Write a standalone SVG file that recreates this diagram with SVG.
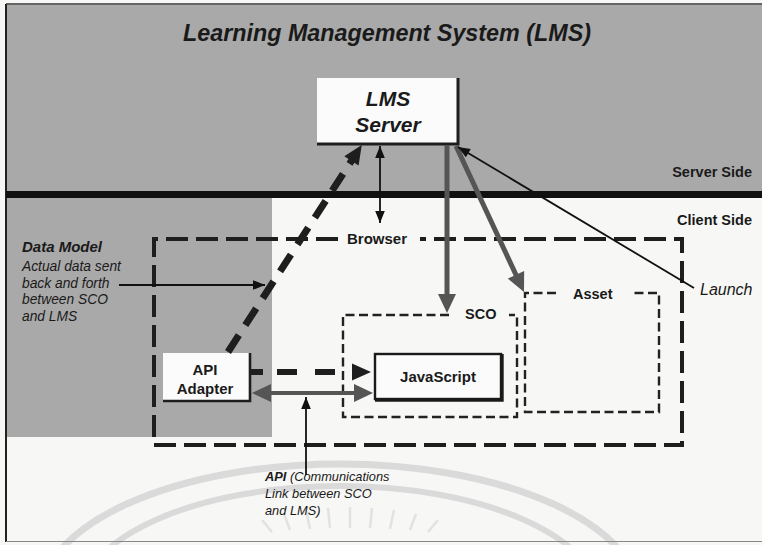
<svg xmlns="http://www.w3.org/2000/svg" width="762" height="545" viewBox="0 0 762 545">
  <style>
    text { font-family: "Liberation Sans", Arial, sans-serif; fill: #1a1a1a; }
    .b { font-weight: bold; }
    .i { font-style: italic; }
    .bi { font-weight: bold; font-style: italic; }
    .thin { stroke: #111; stroke-width: 1.8; fill: none; }
    .big-dash { stroke: #1e1e1e; stroke-width: 4; fill: none; stroke-dasharray: 22 8; }
    .small-dash { stroke: #222; stroke-width: 2.4; fill: none; stroke-dasharray: 9 4.5; }
    .wm { fill: none; stroke: #dadada; }
    .ray { fill: none; stroke: #e2e2e2; stroke-width: 2.5; }
  </style>
  <defs>
    <marker id="h-thin" markerUnits="userSpaceOnUse" orient="auto-start-reverse" refX="0" refY="0" markerWidth="1" markerHeight="1" overflow="visible">
      <path d="M-12,-4.8 L0,0 L-12,4.8 z" fill="#111"/>
    </marker>
    <marker id="h-dark" markerUnits="userSpaceOnUse" orient="auto-start-reverse" refX="0" refY="0" markerWidth="1" markerHeight="1" overflow="visible">
      <path d="M-1,-8.5 L18,0 L-1,8.5 z" fill="#1e1e1e"/>
    </marker>
    <marker id="h-gray" markerUnits="userSpaceOnUse" orient="auto-start-reverse" refX="0" refY="0" markerWidth="1" markerHeight="1" overflow="visible">
      <path d="M-1,-9 L18,0 L-1,9 z" fill="#555"/>
    </marker>
  </defs>

  <!-- backgrounds -->
  <rect x="0" y="0" width="762" height="545" fill="#f7f7f5"/>
  <rect x="6" y="5" width="756" height="188" fill="#a9a9a9"/>
  <rect x="6" y="196" width="266" height="241" fill="#a9a9a9"/>

  <!-- faint seal in the lower part -->
  <g id="watermark">
    <ellipse class="wm" cx="340" cy="599" rx="300" ry="135" stroke-width="7"/>
    <ellipse class="wm" cx="340" cy="601" rx="260" ry="115" stroke-width="6"/>
    <g class="ray">
      <path d="M272,532 L262,520"/>
      <path d="M290,530 L284,514"/>
      <path d="M310,529 L306,510"/>
      <path d="M330,528 L328,508"/>
      <path d="M350,528 L350,507"/>
      <path d="M370,528 L372,508"/>
      <path d="M390,529 L394,510"/>
      <path d="M410,530 L416,514"/>
      <path d="M428,532 L438,520"/>
    </g>
  </g>

  <!-- frame and server/client divider -->
  <path d="M6,4 H762" stroke="#333" stroke-width="1.5"/>
  <path d="M6,4 V542" stroke="#222" stroke-width="2"/>
  <path d="M6,541.5 H762" stroke="#888" stroke-width="1.2"/>
  <rect x="6" y="191" width="756" height="7" fill="#111"/>

  <!-- labels of the frame -->
  <text class="bi" x="387" y="41" font-size="24" text-anchor="middle" textLength="408" lengthAdjust="spacingAndGlyphs">Learning Management System (LMS)</text>
  <text class="b" x="752" y="177" font-size="14.5" text-anchor="end">Server Side</text>
  <text class="b" x="752" y="225" font-size="14.5" text-anchor="end">Client Side</text>

  <!-- containers -->
  <g id="browser">
    <path class="big-dash" d="M338,239 H154 V445 H682 V239 H420"/>
    <text class="b" x="347" y="244" font-size="15">Browser</text>
  </g>
  <g id="sco">
    <path class="small-dash" d="M449,315 H343 V417 H517 V315 H509"/>
    <text class="b" x="465" y="319" font-size="14.5">SCO</text>
  </g>
  <g id="asset">
    <path class="small-dash" d="M556,293 H525 V412 H659 V293 H633"/>
    <text class="b" x="573" y="299" font-size="14.5">Asset</text>
  </g>

  <!-- nodes -->
  <g id="lms-server">
    <rect x="317" y="78" width="140" height="66" fill="#fbfbfb"/>
    <path d="M317,144 H458 V78" fill="none" stroke="#1e1e1e" stroke-width="3"/>
    <text class="bi" x="388" y="106" font-size="21" text-anchor="middle">LMS</text>
    <text class="bi" x="388" y="132" font-size="21" text-anchor="middle">Server</text>
  </g>
  <g id="api-adapter">
    <rect x="163" y="353" width="86" height="48" fill="#fbfbfb"/>
    <path d="M163,401 H250 V353" fill="none" stroke="#1e1e1e" stroke-width="2.6"/>
    <text class="b" x="205" y="375" font-size="15" text-anchor="middle">API</text>
    <text class="b" x="205" y="394" font-size="15" text-anchor="middle">Adapter</text>
  </g>
  <g id="javascript">
    <rect x="375" y="354" width="126" height="45" fill="#fbfbfb" stroke="#1a1a1a" stroke-width="2.4"/>
    <path d="M375,400 H502 V354" fill="none" stroke="#1a1a1a" stroke-width="3.4"/>
    <text class="b" x="438" y="382" font-size="15" text-anchor="middle">JavaScript</text>
  </g>

  <!-- annotations -->
  <g id="data-model">
    <text class="bi" x="22" y="252" font-size="15">Data Model</text>
    <text class="i" x="22" y="271" font-size="13.8">Actual data sent</text>
    <text class="i" x="22" y="288" font-size="13.8">back and forth</text>
    <text class="i" x="22" y="304" font-size="13.8">between SCO</text>
    <text class="i" x="22" y="321" font-size="13.8">and LMS</text>
  </g>
  <g id="launch">
    <text class="i" x="700" y="295" font-size="16">Launch</text>
  </g>
  <g id="api-note">
    <text class="i" x="265" y="481" font-size="12.8"><tspan class="bi">API</tspan> (Communications</text>
    <text class="i" x="265" y="498" font-size="12.8">Link between SCO</text>
    <text class="i" x="265" y="515" font-size="12.8">and LMS)</text>
  </g>

  <!-- connectors -->
  <g id="connectors">
    <!-- data model: API Adapter to LMS Server -->
    <path d="M228,352 L352,160" stroke="#1e1e1e" stroke-width="7" stroke-dasharray="20 12" fill="none" marker-end="url(#h-dark)"/>
    <!-- LMS Server to Browser -->
    <path class="thin" d="M380,146 V223" marker-start="url(#h-thin)" marker-end="url(#h-thin)"/>
    <!-- LMS Server launches SCO and Asset -->
    <path d="M447,145 V295" stroke="#555" stroke-width="5" fill="none" marker-end="url(#h-gray)"/>
    <path d="M456,146 L516.4,275.7" stroke="#555" stroke-width="5" fill="none" marker-end="url(#h-gray)"/>
    <!-- Launch label to LMS Server -->
    <path class="thin" d="M694,288 L458,147" marker-end="url(#h-thin)"/>
    <!-- Data Model label pointer -->
    <path class="thin" d="M119,285 H265" marker-end="url(#h-thin)"/>
    <!-- API Adapter to JavaScript -->
    <path d="M251,372 H353" stroke="#1e1e1e" stroke-width="6" stroke-dasharray="12 14 20 18 20 18" fill="none" marker-end="url(#h-dark)"/>
    <path d="M270,393 H355" stroke="#555" stroke-width="4" fill="none" marker-start="url(#h-gray)" marker-end="url(#h-gray)"/>
    <!-- API label pointer -->
    <path class="thin" d="M306,475 V397" marker-end="url(#h-thin)"/>
  </g>
</svg>
